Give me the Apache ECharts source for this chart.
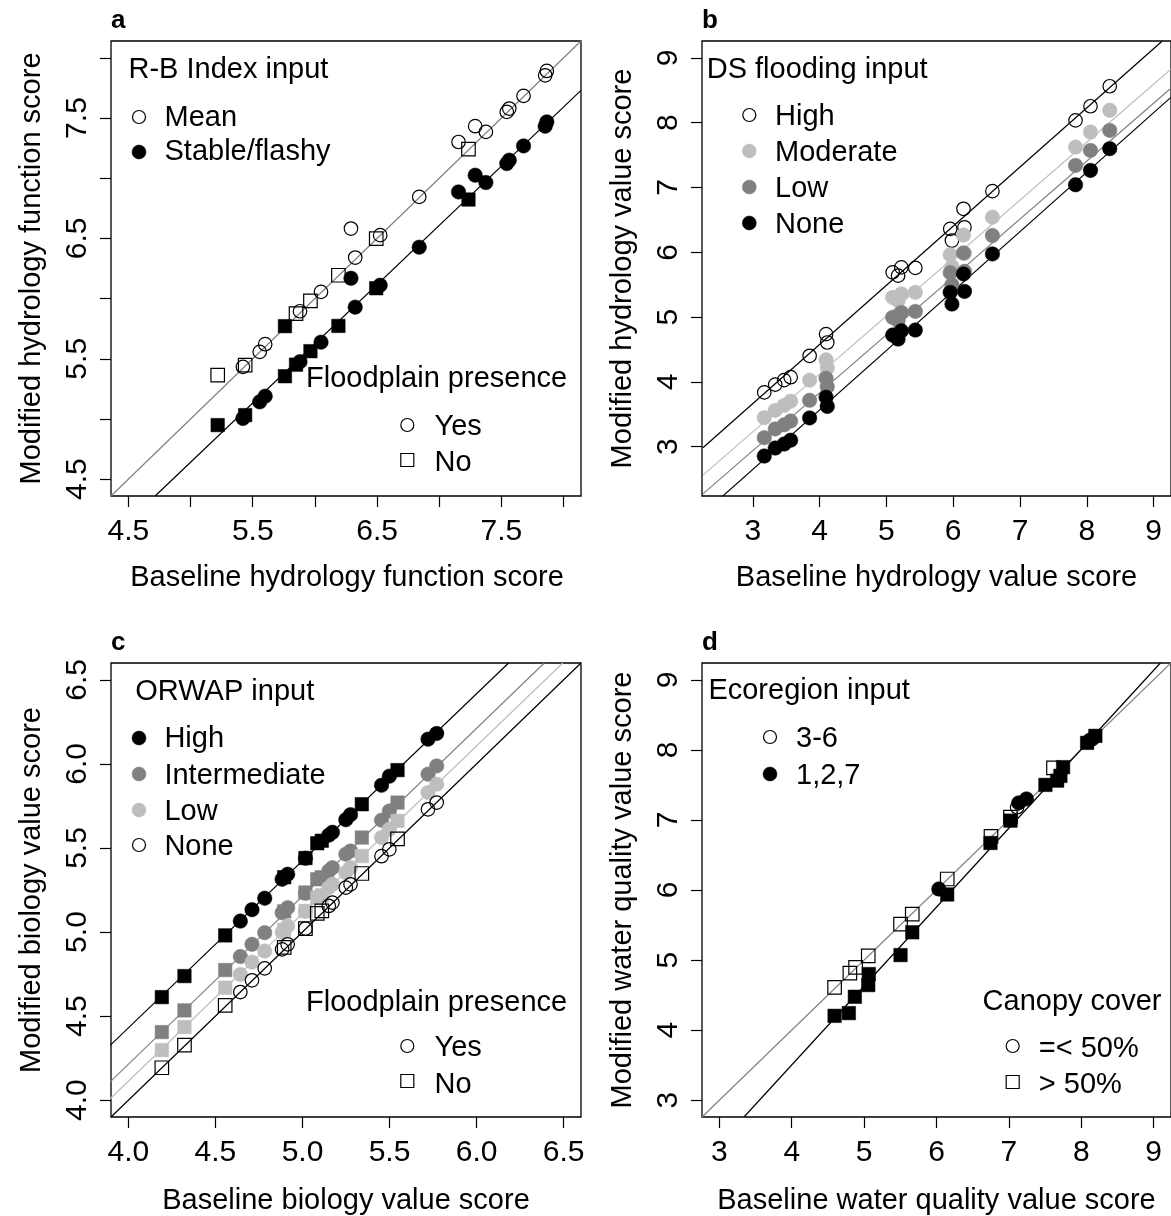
<!DOCTYPE html>
<html><head><meta charset="utf-8">
<script src="https://cdn.jsdelivr.net/npm/echarts@6/dist/echarts.min.js"></script>
<style>html,body{margin:0;padding:0;background:#fff}#c{width:1171px;height:1216px}</style>
</head><body><div id="c"></div>
<script>
// ---------------- DATA ----------------
// Panel a: R-B Index input (Mean / Stable-flashy) x Floodplain (Yes=circle / No=square)
const aMeanYes = [[7.865,7.891],[7.852,7.855],[7.678,7.684],[7.563,7.579],[7.543,7.551],[7.289,7.432],[7.375,7.385],[7.155,7.301],[6.839,6.845],[6.290,6.582],[6.525,6.527],[6.324,6.341],[6.049,6.056],[5.880,5.895],[5.600,5.621],[5.556,5.557],[5.421,5.433]];
const aMeanNo = [[7.235,7.241],[6.493,6.499],[6.189,6.194],[5.964,5.981],[5.848,5.875],[5.439,5.447],[5.218,5.364]];
const aStableYes = [[7.865,7.468],[7.852,7.432],[7.678,7.268],[7.563,7.150],[7.543,7.122],[7.289,7.025],[7.375,6.964],[7.155,6.886],[6.839,6.427],[6.525,6.111],[6.324,5.929],[6.290,6.169],[6.049,5.638],[5.880,5.476],[5.600,5.189],[5.556,5.142],[5.421,5.004]];
const aStableNo = [[7.235,6.823],[6.493,6.086],[6.189,5.773],[5.964,5.563],[5.848,5.451],[5.759,5.771],[5.759,5.355],[5.439,5.032],[5.218,4.949]];
const aLineMean = [[4.36,4.36],[8.14,8.14]];
const aLineStable = [[4.715,4.36],[8.14,7.73]];
const aTicks = [4.5,5.0,5.5,6.0,6.5,7.0,7.5,8.0];
const aLabels = [4.5,5.5,6.5,7.5];

// Panel b: DS flooding input
const bX        = [3.172,3.336,3.470,3.567,3.851,4.097,4.115,5.094,5.175,5.224,5.433,5.955,5.981,6.154,6.169,6.587,7.831,8.055,8.343];
const bHigh     = [3.838,3.959,4.027,4.073,4.403,4.738,4.608,5.691,5.640,5.768,5.759,6.362,6.181,6.671,6.386,6.943,8.036,8.253,8.562];
const bModerate = [3.448,3.560,3.637,3.702,4.027,4.341,4.217,5.304,5.253,5.357,5.381,5.964,5.779,6.266,5.984,6.541,7.624,7.856,8.191];
const bLow      = [3.139,3.274,3.339,3.397,3.717,4.055,3.926,4.995,4.944,5.072,5.088,5.686,5.500,5.991,5.706,6.258,7.340,7.572,7.881];
const bNone     = [2.856,2.980,3.042,3.101,3.444,3.764,3.622,4.723,4.661,4.789,4.800,5.381,5.202,5.666,5.397,5.975,7.042,7.263,7.599];
const bLineHigh = [[2.254,2.985],[9.13,9.26]];
const bLineModerate = [[2.254,2.562],[9.254,8.82]];
const bLineLow = [[2.254,2.273],[9.254,8.527]];
const bLineNone = [[2.533,2.222],[9.254,8.387]];
const bTicks = [3,4,5,6,7,8,9];

// Panel c: ORWAP input x Floodplain
const cX      = [4.192,4.322,4.556,4.643,4.710,4.783,4.883,4.895,4.915,5.017,5.017,5.085,5.111,5.151,5.172,5.249,5.276,5.341,5.454,5.499,5.546,5.721,5.771];
const cFlood  = ['No','No','No','Yes','Yes','Yes','Yes','No','Yes','No','Yes','No','No','Yes','Yes','Yes','Yes','No','Yes','Yes','No','Yes','Yes'];
const cHigh   = [4.613,4.738,4.980,5.065,5.133,5.201,5.314,5.326,5.344,5.440,5.439,5.528,5.543,5.576,5.593,5.668,5.698,5.760,5.873,5.927,5.963,6.147,6.181];
const cInter  = [4.405,4.534,4.774,4.854,4.927,4.996,5.115,5.123,5.145,5.235,5.230,5.314,5.326,5.363,5.383,5.463,5.482,5.562,5.665,5.720,5.770,5.939,5.988];
const cLow    = [4.298,4.435,4.669,4.748,4.821,4.887,5.000,5.013,5.036,5.125,5.123,5.205,5.218,5.264,5.284,5.354,5.383,5.452,5.562,5.611,5.661,5.830,5.879];
const cNone   = [4.193,4.327,4.564,4.643,4.713,4.784,4.897,4.909,4.927,5.020,5.020,5.111,5.126,5.155,5.175,5.264,5.284,5.348,5.451,5.492,5.554,5.730,5.770];
const cLineHigh = [[3.89,4.321],[6.184,6.6]];
const cLineInter = [[3.89,4.104],[6.389,6.6]];
const cLineLow = [[3.89,4.004],[6.495,6.6]];
const cLineNone = [[3.9,3.9],[6.6,6.6]];
const cTicks = [4.0,4.5,5.0,5.5,6.0,6.5];

// Panel d: Ecoregion input (3-6 open / 1,2,7 filled) x Canopy cover (=<50% circle / >50% square)
const dOpenSq   = [[4.592,4.610],[4.803,4.814],[4.882,4.896],[5.057,5.061],[5.503,5.514],[5.665,5.657],[6.148,6.157],[6.753,6.764],[7.022,7.039],[7.616,7.743]];
const dOpenCirc = [[7.114,7.181]];
const dFillSq   = [[4.592,4.204],[4.789,4.243],[4.872,4.476],[5.057,4.643],[5.065,4.800],[5.503,5.071],[5.665,5.396],[6.148,5.936],[6.746,6.671],[7.022,6.990],[7.505,7.500],[7.667,7.561],[7.712,7.629],[7.749,7.753],[8.081,8.100],[8.195,8.200]];
const dFillCirc = [[6.032,6.014],[7.136,7.243],[7.243,7.300],[8.113,8.133],[8.154,8.157]];
const dLineGray  = [[2.76,2.76],[9.24,9.24]];
const dLineBlack = [[3.34,2.76],[9.093,9.24]];
const dTicks = [3,4,5,6,7,8,9];

// ---------------- STYLE ----------------
const FONT = '"Liberation Sans", Arial, Helvetica, sans-serif';
const LIGHT = '#bebebe', MID = '#808080', BLACK = '#000000';
const CS = 13.5, FS = 14.5, SQ = 13.5;

const grids = [
  {left:111, top:41, width:470, height:455},
  {left:702, top:41, width:469, height:455},
  {left:111, top:663, width:470, height:454},
  {left:702, top:663, width:469, height:454}
].map(g => Object.assign(g, {show:true, borderColor:'#000', borderWidth:1.3, backgroundColor:'transparent', containLabel:false, outerBoundsMode:'none'}));

function axis(gi, min, max, ticks, labels, dec, isY) {
  return {
    type:'value', gridIndex:gi, min:min, max:max,
    axisLine:{show:false}, splitLine:{show:false},
    axisTick:{show:true, inside:false, length:11, customValues:ticks, lineStyle:{color:'#000', width:1.2}},
    axisLabel:{show:true, customValues:labels, formatter:v => Number(v).toFixed(dec), color:'#000',
      fontSize:30, fontFamily:FONT, margin: isY ? 18 : 21, rotate: isY ? 90 : 0}
  };
}
const xAxes = [
  axis(0, 4.36, 8.14, aTicks, aLabels, 1, false),
  axis(1, 2.24, 9.26, bTicks, bTicks, 0, false),
  axis(2, 3.9, 6.6, cTicks, cTicks, 1, false),
  axis(3, 2.76, 9.24, dTicks, dTicks, 0, false)
];
const yAxes = [
  axis(0, 4.36, 8.14, aTicks, aLabels, 1, true),
  axis(1, 2.24, 9.26, bTicks, bTicks, 0, true),
  axis(2, 3.9, 6.6, cTicks, cTicks, 1, true),
  axis(3, 2.76, 9.24, dTicks, dTicks, 0, true)
];

const series = [];
function line(gi, data, color) {
  series.push({type:'line', xAxisIndex:gi, yAxisIndex:gi, data:data, symbol:'none', clip:true, silent:true,
    lineStyle:{color:color, width:1.2, opacity:1}, z:1, animation:false});
}
function pts(gi, data, shape, fill) {
  const open = fill === null;
  series.push({type:'scatter', xAxisIndex:gi, yAxisIndex:gi, data:data,
    symbol: shape === 'sq' ? 'rect' : 'circle',
    symbolSize: shape === 'sq' ? SQ : (open ? CS : FS),
    itemStyle: open ? {color:'rgba(0,0,0,0)', borderColor:'#000', borderWidth:1.2, opacity:1}
                    : {color:fill, borderColor:fill, borderWidth:0.5, opacity:1},
    z:2, silent:true, animation:false});
}
const zip = (xs, ys, keep) => xs.map((x,i) => [x, ys[i]]).filter((_,i) => keep(i));

// Panel a
line(0, aLineMean, MID);
line(0, aLineStable, BLACK);
pts(0, aMeanYes, 'c', null);
pts(0, aMeanNo, 'sq', null);
pts(0, aStableYes, 'c', BLACK);
pts(0, aStableNo, 'sq', BLACK);

// Panel b
line(1, bLineHigh, BLACK);
line(1, bLineModerate, LIGHT);
line(1, bLineLow, MID);
line(1, bLineNone, BLACK);
pts(1, zip(bX, bHigh, () => true), 'c', null);
pts(1, zip(bX, bModerate, () => true), 'c', LIGHT);
pts(1, zip(bX, bLow, () => true), 'c', MID);
pts(1, zip(bX, bNone, () => true), 'c', BLACK);

// Panel c
line(2, cLineHigh, BLACK);
line(2, cLineInter, MID);
line(2, cLineLow, LIGHT);
line(2, cLineNone, BLACK);
[[cHigh, BLACK], [cInter, MID], [cLow, LIGHT], [cNone, null]].forEach(([ys, col]) => {
  pts(2, zip(cX, ys, i => cFlood[i] === 'Yes'), 'c', col);
  pts(2, zip(cX, ys, i => cFlood[i] === 'No'), 'sq', col);
});

// Panel d
line(3, dLineGray, MID);
line(3, dLineBlack, BLACK);
pts(3, dOpenSq, 'sq', null);
pts(3, dOpenCirc, 'c', null);
pts(3, dFillSq, 'sq', BLACK);
pts(3, dFillCirc, 'c', BLACK);

// ---------------- TEXT / LEGENDS ----------------
const G = [];
const F29 = '29px ' + FONT;
function txt(x, y, s, opts) {
  opts = opts || {};
  G.push({type:'text', x:x, y:y, rotation: opts.rot || 0, silent:true,
    style:{text:s, fill:'#000', font: opts.font || F29, align: opts.align || 'left', verticalAlign:'middle'}});
}
function sym(cx, cy, kind, fill) {
  if (kind === 'sq') {
    G.push({type:'rect', silent:true, shape:{x:cx-6.5, y:cy-6.5, width:13, height:13},
      style:{fill:'none', stroke:'#000', lineWidth:1.2}});
  } else if (fill === null) {
    G.push({type:'circle', silent:true, shape:{cx:cx, cy:cy, r:6.5}, style:{fill:'none', stroke:'#000', lineWidth:1.2}});
  } else {
    G.push({type:'circle', silent:true, shape:{cx:cx, cy:cy, r:7}, style:{fill:fill, stroke:fill, lineWidth:0.5}});
  }
}
const BOLD = 'bold 26px ' + FONT;
// panel letters
txt(111, 21, 'a', {font:BOLD});
txt(702, 21, 'b', {font:BOLD});
txt(111, 643, 'c', {font:BOLD});
txt(702, 643, 'd', {font:BOLD});

// axis titles
txt(347, 578, 'Baseline hydrology function score', {align:'center'});
txt(936.5, 578, 'Baseline hydrology value score', {align:'center'});
txt(346, 1201, 'Baseline biology value score', {align:'center'});
txt(936.5, 1201, 'Baseline water quality value score', {align:'center'});
txt(32, 268.5, 'Modified hydrology function score', {align:'center', rot:Math.PI/2});
txt(623, 268.5, 'Modified hydrology value score', {align:'center', rot:Math.PI/2});
txt(32, 890, 'Modified biology value score', {align:'center', rot:Math.PI/2});
txt(623, 890, 'Modified water quality value score', {align:'center', rot:Math.PI/2});

// legend a
txt(128.5, 70, 'R-B Index input');
sym(139, 117, 'c', null); txt(164.5, 118, 'Mean');
sym(139, 152, 'c', BLACK); txt(164.5, 152, 'Stable/flashy');
txt(306, 379, 'Floodplain presence');
sym(407.3, 425, 'c', null); txt(434.5, 427, 'Yes');
sym(407.3, 460, 'sq'); txt(434.5, 463, 'No');

// legend b
txt(706.7, 70, 'DS flooding input');
sym(749.3, 115, 'c', null); txt(775, 117, 'High');
sym(749.3, 151, 'c', LIGHT); txt(775, 153, 'Moderate');
sym(749.3, 187, 'c', MID); txt(775, 189, 'Low');
sym(749.3, 223, 'c', BLACK); txt(775, 225, 'None');

// legend c
txt(135.3, 692, 'ORWAP input');
sym(139, 738, 'c', BLACK); txt(164.4, 739, 'High');
sym(139, 774, 'c', MID); txt(164.4, 776, 'Intermediate');
sym(139, 810, 'c', LIGHT); txt(164.4, 812, 'Low');
sym(139, 845, 'c', null); txt(164.4, 847, 'None');
txt(306, 1003, 'Floodplain presence');
sym(407.3, 1046, 'c', null); txt(434.5, 1048, 'Yes');
sym(407.3, 1081, 'sq'); txt(434.5, 1085, 'No');

// legend d
txt(708.4, 691, 'Ecoregion input');
sym(770, 737, 'c', null); txt(796, 739, '3-6');
sym(770, 774, 'c', BLACK); txt(796, 776, '1,2,7');
txt(982.6, 1002, 'Canopy cover');
sym(1012.7, 1046, 'c', null); txt(1038.8, 1049, '=< 50%');
sym(1012.7, 1082, 'sq'); txt(1038.8, 1085, '> 50%');

const chart = echarts.init(document.getElementById('c'), null, {renderer:'canvas', width:1171, height:1216});
chart.setOption({
  animation:false,
  backgroundColor:'#ffffff',
  textStyle:{fontFamily:FONT},
  grid:grids, xAxis:xAxes, yAxis:yAxes, series:series, graphic:G
});
</script></body></html>
